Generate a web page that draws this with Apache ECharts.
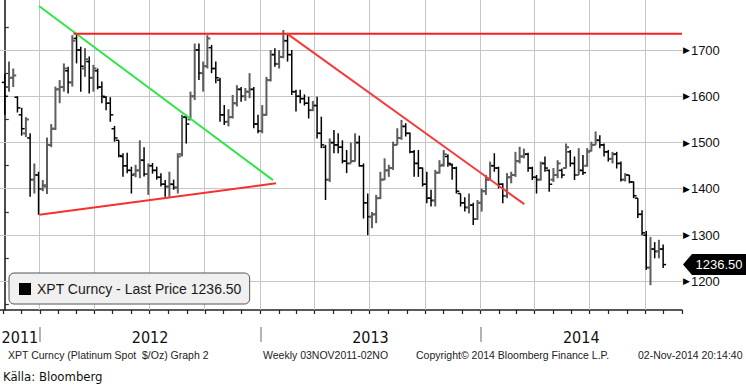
<!DOCTYPE html>
<html><head><meta charset="utf-8">
<script src="https://cdn.jsdelivr.net/npm/echarts@6/dist/echarts.min.js"></script>
<style>html,body{margin:0;padding:0;background:#fff}#c{width:746px;height:388px}</style>
</head><body><div id="c"></div>
<script>
// ---- data (weekly OHLC, XPT Curncy, first week ending 2011-11-04) ----
const firstWeek = '2011-11-04';
const opens = [1630,1620,1640,1598,1560,1520,1510,1420,1430,1400,1405,1495,1530,1615,1620,1655,1630,1725,1700,1660,
1675,1640,1655,1620,1598,1585,1530,1505,1470,1450,1440,1432,1440,1462,1432,1450,1440,1425,1410,1405,
1410,1403,1475,1555,1550,1600,1700,1650,1665,1705,1660,1635,1560,1545,1555,1585,1615,1600,1610,1615,
1540,1525,1560,1635,1690,1670,1685,1720,1690,1610,1600,1595,1585,1570,1580,1520,1490,1420,1500,1495,
1490,1460,1455,1460,1500,1450,1370,1340,1345,1380,1420,1440,1445,1495,1510,1535,1520,1480,1455,1445,
1410,1380,1375,1435,1452,1470,1452,1445,1390,1370,1360,1365,1335,1370,1395,1420,1450,1445,1410,1385,
1425,1430,1460,1470,1475,1445,1425,1420,1455,1440,1420,1430,1440,1445,1480,1455,1430,1440,1450,1482,
1495,1505,1495,1480,1465,1475,1455,1420,1430,1415,1380,1345,1300,1230,1270,1265,1270];
const highs = [1648,1675,1660,1600,1575,1555,1520,1455,1437,1419,1511,1540,1621,1635,1671,1664,1732,1736,1707,1704,
1686,1668,1660,1632,1600,1598,1536,1505,1477,1478,1448,1452,1505,1490,1455,1456,1448,1434,1419,1437,
1420,1477,1560,1560,1610,1714,1714,1675,1732,1711,1675,1640,1581,1572,1603,1624,1620,1618,1650,1620,
1560,1581,1642,1700,1704,1700,1743,1736,1700,1614,1614,1604,1599,1590,1599,1556,1495,1509,1527,1520,
1505,1484,1500,1520,1515,1455,1390,1350,1387,1437,1466,1452,1502,1531,1549,1542,1522,1484,1484,1446,
1437,1398,1441,1462,1484,1475,1455,1448,1390,1382,1390,1370,1376,1401,1430,1459,1477,1448,1412,1434,
1437,1480,1491,1487,1478,1448,1430,1459,1470,1442,1445,1462,1444,1498,1484,1470,1488,1473,1488,1502,
1524,1516,1498,1484,1480,1480,1459,1434,1430,1416,1380,1354,1309,1296,1285,1290,1280];
const lows = [1560,1610,1620,1565,1515,1512,1383,1390,1344,1395,1389,1490,1527,1585,1610,1606,1621,1671,1610,1642,
1606,1610,1615,1585,1570,1545,1502,1468,1426,1434,1390,1425,1423,1427,1387,1433,1420,1405,1383,1383,
1398,1390,1470,1498,1549,1592,1635,1610,1660,1650,1628,1545,1538,1535,1552,1578,1588,1590,1596,1531,
1520,1520,1558,1632,1664,1660,1682,1675,1603,1567,1585,1580,1552,1568,1509,1488,1376,1415,1477,1477,
1455,1434,1455,1459,1448,1336,1300,1315,1326,1378,1419,1426,1441,1495,1506,1513,1477,1426,1426,1405,
1369,1362,1362,1433,1448,1448,1420,1390,1362,1351,1347,1322,1333,1351,1387,1419,1437,1401,1369,1380,
1412,1426,1455,1466,1437,1419,1390,1418,1437,1394,1415,1423,1423,1444,1448,1419,1430,1430,1448,1481,
1495,1488,1470,1459,1455,1444,1416,1416,1412,1380,1337,1300,1225,1192,1250,1250,1229];
const closes = [1600,1640,1645,1575,1530,1550,1420,1430,1400,1408,1495,1530,1615,1620,1660,1630,1720,1700,1665,1680,
1640,1660,1620,1600,1585,1560,1510,1472,1450,1440,1430,1440,1462,1432,1450,1440,1425,1410,1405,1410,
1403,1470,1555,1540,1600,1700,1650,1665,1725,1660,1640,1560,1545,1555,1585,1615,1600,1610,1615,1540,
1525,1560,1635,1690,1670,1685,1720,1690,1610,1600,1595,1585,1570,1580,1520,1495,1420,1500,1495,1490,
1460,1455,1460,1500,1450,1370,1340,1345,1380,1420,1440,1445,1495,1510,1535,1520,1480,1455,1445,1410,
1380,1375,1435,1450,1475,1455,1445,1395,1370,1360,1365,1335,1370,1395,1420,1450,1445,1410,1385,1425,
1430,1460,1470,1475,1445,1425,1420,1455,1445,1410,1430,1455,1430,1490,1455,1430,1440,1435,1480,1495,
1505,1495,1480,1465,1475,1455,1420,1430,1415,1385,1345,1305,1230,1270,1265,1270,1236.5];
const yLabels = [1200,1300,1400,1500,1600,1700];
const yMinorTicks = [1150,1250,1350,1450,1550,1650,1750];
const yearNames = ['2011','2012','2013','2014'];
const lastPrice = 1236.50;
const legendText = 'XPT Curncy - Last Price 1236.50';
// drawn trend lines: [week index, price]
const trendGreen = [[8.1,1795],[63.55,1419]];
const trendTop = [[16.28,1735],[160.47,1735]];
const trendSupport = [[8.18,1344],[64.27,1412]];
const trendFalling = [[66.8,1736],[123.1,1367]];
const footerTexts = ['XPT Curncy (Platinum Spot  $/Oz) Graph 2','Weekly 03NOV2011-02NO','Copyright\u00a9 2014 Bloomberg Finance L.P.','02-Nov-2014 20:14:40'];
const sourceText = 'K\u00e4lla: Bloomberg';

// ---- helpers ----
const DAY = 86400000;
const t0 = Date.parse(firstWeek + 'T00:00:00Z');
const wk = s => (Date.parse(s + 'T00:00:00Z') - t0) / (7 * DAY);
const X_MIN = -1.137, X_MAX = 160.47, Y_MIN = 1138.4, Y_MAX = 1808;
const monthTicks = [], quarterLines = [];
for (let y = 2011; y <= 2014; y++) for (let m = 1; m <= 12; m++) {
  const s = y + '-' + String(m).padStart(2, '0') + '-01';
  const v = wk(s);
  if (v > X_MIN && v < X_MAX) { monthTicks.push(v); if ((m - 1) % 3 === 0) quarterLines.push(v); }
}
const yearStarts = [wk('2012-01-01'), wk('2013-01-01'), wk('2014-01-01')];
const yearBounds = [X_MIN, ...yearStarts, X_MAX];
const yearPos = yearNames.map((n, k) => (yearBounds[k] + yearBounds[k + 1]) / 2);

const ohlc = opens.map((o, i) => [i, o, highs[i], lows[i], closes[i]]);

const chart = echarts.init(document.getElementById('c'), null, {renderer: 'svg'});
const F = '"Liberation Sans", Arial, sans-serif';
const NARROW = '"Liberation Sans Narrow", "Arial Narrow", "DejaVu Sans Condensed", sans-serif';

const gridLines = [
  ...quarterLines.map(v => [[v, Y_MIN], [v, Y_MAX]]),
  ...yLabels.map(v => [[X_MIN, v], [X_MAX, v]])
];
const snap = v => Math.round(v - 0.5) + 0.5;

chart.setOption({
  animation: false,
  backgroundColor: '#fff',
  grid: {left: 0, right: 64, top: 0, bottom: 78, outerBoundsMode: 'none', containLabel: false},
  legend: {
    left: 9, top: 273, padding: [9, 8, 8, 10], itemWidth: 12, itemHeight: 12, itemGap: 5,
    backgroundColor: '#f0f0f0', borderColor: '#555', borderWidth: 1, borderRadius: 5,
    data: [{name: legendText, icon: 'rect', itemStyle: {color: '#000'}}],
    textStyle: {fontFamily: F, fontSize: 14, color: '#1a1a1a', padding: [0, 0, 0, 1]}
  },
  xAxis: [{
    type: 'value', min: X_MIN, max: X_MAX, position: 'bottom',
    axisLine: {show: true, onZero: false, lineStyle: {color: '#222', width: 1.5}},
    axisTick: {show: true, customValues: monthTicks, length: 4, lineStyle: {color: '#222', width: 1.2}},
    axisLabel: {show: false}, splitLine: {show: false}
  }, {
    type: 'value', min: X_MIN, max: X_MAX, position: 'bottom', offset: 17,
    axisLine: {show: false},
    axisTick: {show: true, customValues: yearStarts, length: 15, lineStyle: {color: '#9a9a9a', width: 1.5}},
    axisLabel: {show: true, customValues: yearPos, margin: 2, fontFamily: NARROW, fontSize: 16, color: '#111',
      formatter: v => { const k = yearPos.findIndex(p => Math.abs(p - v) < 1e-6); return k >= 0 ? yearNames[k] : ''; }},
    splitLine: {show: false}
  }],
  yAxis: {
    type: 'value', position: 'right', min: Y_MIN, max: Y_MAX,
    axisLine: {show: true, lineStyle: {color: '#111', width: 1.5}},
    axisTick: {show: true, customValues: yMinorTicks, length: 4, lineStyle: {color: '#333', width: 1.2}},
    axisLabel: {show: true, customValues: yLabels, margin: 1,
      formatter: v => '{t|\u25B6}{v|' + v + '}',
      rich: {t: {fontSize: 9, fontFamily: 'DejaVu Sans', color: '#000', padding: [0, 1, 0, 0]},
             v: {fontSize: 13, fontFamily: F, color: '#111'}}},
    splitLine: {show: false}
  },
  graphic: [
    {type: 'text', left: 8, top: 349, style: {text: footerTexts[0], font: '10.5px ' + F, fill: '#222'}},
    {type: 'text', left: 263, top: 349, style: {text: footerTexts[1], font: '10.5px ' + F, fill: '#222'}},
    {type: 'text', left: 416, top: 349, style: {text: footerTexts[2], font: '10.5px ' + F, fill: '#222'}},
    {type: 'text', left: 638, top: 349, style: {text: footerTexts[3], font: '10.5px ' + F, fill: '#222'}},
    {type: 'text', left: 3, top: 370, style: {text: sourceText, font: '13px ' + NARROW, fill: '#111'}}
  ],
  series: [{
    // grid lines drawn through the axis scales, pale and pixel-snapped
    type: 'custom', name: 'grid', silent: true, z: 1,
    data: gridLines.map((p, k) => [k]),
    renderItem: (params, api) => {
      const p = gridLines[api.value(0)];
      const a = api.coord(p[0]), b = api.coord(p[1]);
      const vertical = Math.abs(a[0] - b[0]) < 0.5;
      const shape = vertical
        ? {x1: snap(a[0]), y1: a[1], x2: snap(a[0]), y2: b[1]}
        : {x1: a[0], y1: snap(a[1]), x2: b[0], y2: snap(a[1])};
      return {type: 'line', shape, style: {stroke: '#c6c6c6', lineWidth: 1}};
    }
  }, {
    type: 'custom', name: legendText, z: 3, data: ohlc, itemStyle: {color: '#000'},
    encode: {x: 0, y: [1, 2, 3, 4]},
    renderItem: (params, api) => {
      const i = api.value(0);
      const o = api.coord([i, api.value(1)]), h = api.coord([i, api.value(2)]);
      const l = api.coord([i, api.value(3)]), c = api.coord([i, api.value(4)]);
      const up = api.value(4) >= api.value(1);
      const st = {stroke: up ? '#5e5e5e' : '#000', lineWidth: up ? 2 : 1.5};
      const w = 3;
      return {type: 'group', children: [
        {type: 'line', shape: {x1: h[0], y1: h[1], x2: l[0], y2: l[1]}, style: st},
        {type: 'line', shape: {x1: o[0] - w, y1: o[1], x2: o[0], y2: o[1]}, style: st},
        {type: 'line', shape: {x1: c[0], y1: c[1], x2: c[0] + w, y2: c[1]}, style: st}
      ]};
    },
    markPoint: {
      silent: true,
      data: [{coord: [X_MAX, lastPrice], value: lastPrice}],
      symbol: 'path://M0,10L9,0L64,0L64,20L9,20Z', symbolSize: [64, 21], symbolKeepAspect: false,
      symbolOffset: [33, 0], itemStyle: {color: '#000'},
      label: {show: true, position: 'inside', offset: [4, 0], color: '#fff', fontFamily: F, fontSize: 13,
        formatter: () => lastPrice.toFixed(2)}
    }
  },
  ...[[trendGreen, '#2ee64a'], [trendTop, '#f52020'], [trendSupport, '#f53030'], [trendFalling, '#f53a3a']].map(([pts, col]) => ({
    type: 'line', data: pts, symbol: 'none', silent: true, z: 4,
    lineStyle: {color: col, width: 2}
  }))]
});
</script></body></html>
